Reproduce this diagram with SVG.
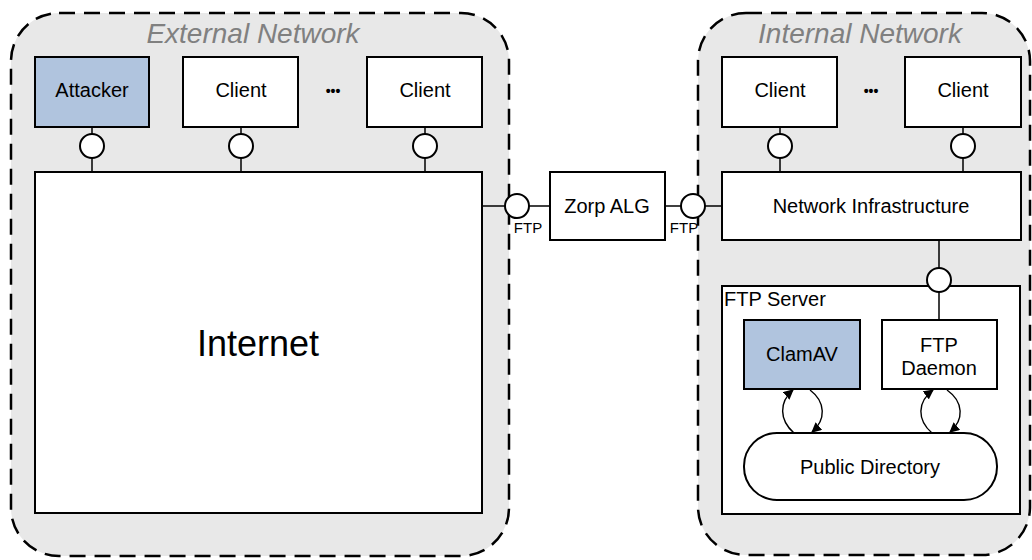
<svg xmlns="http://www.w3.org/2000/svg" width="1032" height="560" viewBox="0 0 1032 560">
<defs>
<style>
text{font-family:"Liberation Sans",Arial,sans-serif;fill:#000;text-anchor:middle}
.zone{fill:#e8e8e8;stroke:#000;stroke-width:2.5;stroke-dasharray:16 9}
.zt{font-size:28px;font-style:italic;fill:#808080}
.box{fill:#fff;stroke:#000;stroke-width:2}
.hl{fill:#b0c4de;stroke:#000;stroke-width:2}
.port{fill:#fff;stroke:#000;stroke-width:2}
.ln{stroke:#000;stroke-width:1.5;fill:none}
.arc{stroke:#000;stroke-width:1.4;fill:none;marker-end:url(#ah)}
.dots{font-size:14px;font-weight:bold}
.t20{font-size:20px}
.t15{font-size:15px}
</style>
<marker id="ah" viewBox="0 0 10 10" refX="9" refY="5" markerWidth="10" markerHeight="10" markerUnits="userSpaceOnUse" orient="auto">
<path d="M0,0 L10,5 L0,10 z" fill="#000"/>
</marker>
</defs>

<g id="external-network">
<rect class="zone" x="11" y="13" width="498" height="543" rx="48" ry="48"/>
<text class="zt" x="253" y="43">External Network</text>
</g>
<g id="internal-network">
<rect class="zone" x="698" y="13" width="332" height="542" rx="48" ry="48"/>
<text class="zt" x="860" y="43">Internal Network</text>
</g>

<g id="attacker">
<rect class="hl" x="35" y="57" width="114" height="70"/>
<text class="t20" x="92" y="97">Attacker</text>
</g>
<g id="ext-client-1">
<rect class="box" x="183" y="57" width="115" height="70"/>
<text class="t20" x="241" y="97">Client</text>
</g>
<text class="dots" x="333" y="96">•••</text>
<g id="ext-client-2">
<rect class="box" x="367" y="57" width="115" height="70"/>
<text class="t20" x="425" y="97">Client</text>
</g>
<g id="internet">
<rect class="box" x="35" y="172" width="447" height="341"/>
<text x="258" y="356" style="font-size:36px">Internet</text>
</g>
<g id="zorp-alg">
<rect class="box" x="550" y="172" width="115" height="68"/>
<text class="t20" x="607" y="213">Zorp ALG</text>
</g>
<g id="int-client-1">
<rect class="box" x="722" y="57" width="115" height="70"/>
<text class="t20" x="780" y="97">Client</text>
</g>
<text class="dots" x="871" y="96">•••</text>
<g id="int-client-2">
<rect class="box" x="905" y="57" width="116" height="70"/>
<text class="t20" x="963" y="97">Client</text>
</g>
<g id="network-infrastructure">
<rect class="box" x="722" y="172" width="299" height="68"/>
<text class="t20" x="871" y="213">Network Infrastructure</text>
</g>
<g id="ftp-server">
<rect class="box" x="722" y="286" width="298" height="228"/>
<text class="t20" x="724" y="306" style="text-anchor:start">FTP Server</text>
</g>
<g id="clamav">
<rect class="hl" x="744" y="320" width="116" height="69"/>
<text class="t20" x="802" y="361">ClamAV</text>
</g>
<g id="ftp-daemon">
<rect class="box" x="882" y="320" width="115" height="69"/>
<text class="t20" x="939" y="352">FTP</text>
<text class="t20" x="939" y="375">Daemon</text>
</g>
<g id="public-directory">
<rect class="box" x="744" y="433" width="253" height="67" rx="33" ry="33"/>
<text class="t20" x="870" y="474">Public Directory</text>
</g>

<g id="connectors">
<line class="ln" x1="92" y1="127" x2="92" y2="172"/>
<line class="ln" x1="241" y1="127" x2="241" y2="172"/>
<line class="ln" x1="425" y1="127" x2="425" y2="172"/>
<line class="ln" x1="780" y1="127" x2="780" y2="172"/>
<line class="ln" x1="963" y1="127" x2="963" y2="172"/>
<line class="ln" x1="482" y1="206" x2="550" y2="206"/>
<line class="ln" x1="665" y1="206" x2="722" y2="206"/>
<line class="ln" x1="939" y1="240" x2="939" y2="320"/>
<path class="arc" d="M794,433 C779,420 779,402 793,390"/>
<path class="arc" d="M810,390 C826,402 826,420 812,432"/>
<path class="arc" d="M932,433 C917,420 917,402 933,390"/>
<path class="arc" d="M947,390 C964,402 964,420 950,432"/>
</g>

<g id="ports">
<circle class="port" cx="92" cy="146" r="12"/>
<circle class="port" cx="241" cy="146" r="12"/>
<circle class="port" cx="425" cy="146" r="12"/>
<circle class="port" cx="780" cy="146" r="12"/>
<circle class="port" cx="963" cy="146" r="12"/>
<circle class="port" cx="517" cy="206" r="12"/>
<circle class="port" cx="693" cy="206" r="12"/>
<circle class="port" cx="939" cy="280" r="12"/>
<text class="t15" x="528" y="233">FTP</text>
<text class="t15" x="684" y="233">FTP</text>
</g>
</svg>
